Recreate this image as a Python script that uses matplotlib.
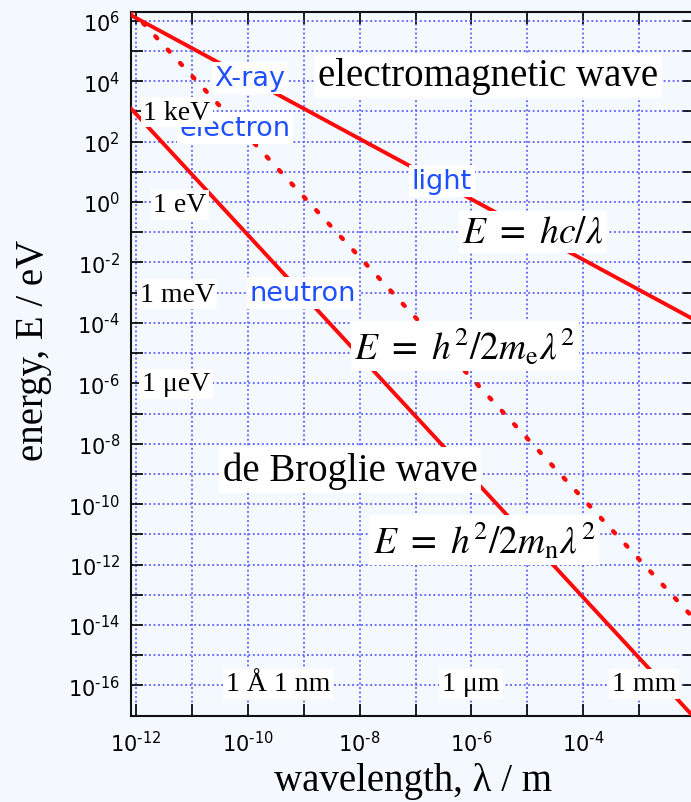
import numpy as np
import matplotlib
matplotlib.use('Agg')
import matplotlib.pyplot as plt

# end points of the three lines (wavelength / m, energy / eV)
lam_ends = [8e-13, 1e-2]
E_light = [1.55e6, 1.24e-4]
E_electron = [2.35e6, 1.5e-14]
E_neutron = [1.28e3, 8.2e-18]

xticks = [1e-12, 1e-11, 1e-10, 1e-9, 1e-8, 1e-7, 1e-6, 1e-5, 1e-4, 1e-3]
xticklabels = ['$10^{\u201012}$', '', '$10^{\u201010}$', '', '$10^{\u20108}$', '',
               '$10^{\u20106}$', '', '$10^{\u20104}$', '']
yticks = [1e-16, 1e-15, 1e-14, 1e-13, 1e-12, 1e-11, 1e-10, 1e-9, 1e-8, 1e-7,
          1e-6, 1e-5, 1e-4, 1e-3, 1e-2, 1e-1, 1e0, 1e1, 1e2, 1e3, 1e4, 1e5, 1e6]
yticklabels = ['$10^{\u201016}$', '', '$10^{\u201014}$', '', '$10^{\u201012}$', '',
               '$10^{\u201010}$', '', '$10^{\u20108}$', '', '$10^{\u20106}$', '',
               '$10^{\u20104}$', '', '$10^{\u20102}$', '',
               '$10^{0}$', '', '$10^{2}$', '', '$10^{4}$', '', '$10^{6}$']

W, H = 691, 803
bg = '#f3f9fe'
red = '#ff0a0a'
blue = '#1f50ff'
serif = 'Liberation Serif'

fig = plt.figure(figsize=(W / 100, H / 100), dpi=100, facecolor=bg)
ax = fig.add_axes([131 / W, (H - 716.7) / H, 564 / W, (716.7 - 13.3) / H])
ax.set_facecolor(bg)
ax.set_xscale('log')
ax.set_yscale('log')

ax.plot(lam_ends, E_light, color=red, lw=2.8, solid_capstyle='round', zorder=3)
ax.plot(lam_ends, E_neutron, color=red, lw=2.8, solid_capstyle='round', zorder=3)
ax.plot(lam_ends, E_electron, color=red, lw=3.2, linestyle=(0, (0.6, 3.5)),
        dash_capstyle='round', zorder=3)

ax.set_xlim(10 ** -12.09, 1e-2)
ax.set_ylim(1e-17, 10 ** 6.28)
ax.set_xticks(xticks)
ax.set_xticklabels(xticklabels)
ax.set_yticks(yticks)
ax.set_yticklabels(yticklabels)
ax.minorticks_off()
ax.grid(True, color='#5c5cff', linestyle=(0, (1, 1.5)), lw=1.3)
ax.tick_params(direction='in', length=8.5, width=1.3, top=True, right=True,
               labelsize=15, color='#111111')
ax.tick_params(axis='x', pad=10)
ax.tick_params(axis='y', pad=8)
for s in ax.spines.values():
    s.set_linewidth(1.5)
    s.set_color('#111111')


def label(px, py, txt, size, color='black', family=serif, math=None):
    kw = dict(ha='center', va='center', fontsize=size, color=color, family=family,
              bbox=dict(facecolor='white', edgecolor='none', boxstyle='square,pad=0.1'))
    if math:
        kw['math_fontfamily'] = math
    fig.text(px / W, 1 - py / H, txt, **kw)


label(250, 79, 'X-ray', 19.5, blue, 'DejaVu Sans')
label(235, 129, 'electron', 19.5, blue, 'DejaVu Sans')
label(177, 113, '1 keV', 20)
label(180, 206, '1 eV', 20)
label(177, 295, '1 meV', 20)
label(176, 385, '1 \u03bceV', 20)
label(303, 294, 'neutron', 19.5, blue, 'DejaVu Sans')
label(442, 182, 'light', 19.5, blue, 'DejaVu Sans')
label(488, 77, 'electromagnetic wave', 28)
label(350, 471, 'de Broglie wave', 28)
label(533, 233, r'$E\ =\ hc/\lambda$', 27, math='stix')
label(465, 347, r'$E\ =\ h^2/2m_\mathrm{e}\lambda^2$', 27, math='stix')
label(484, 541, r'$E\ =\ h^2/2m_\mathrm{n}\lambda^2$', 27, math='stix')
label(278, 685, '1 \u00c5 1 nm', 20)
label(471, 685, '1 \u03bcm', 20)
label(644, 685, '1 mm', 20)

fig.text(413 / W, 1 - 782 / H, 'wavelength, \u03bb / m', ha='center', va='center',
         fontsize=28, family=serif)
fig.text(34 / W, 1 - 350 / H, 'energy, E / eV', ha='center', va='center',
         fontsize=28, family=serif, rotation=90)

fig.savefig('out.png', dpi=100, facecolor=bg)
